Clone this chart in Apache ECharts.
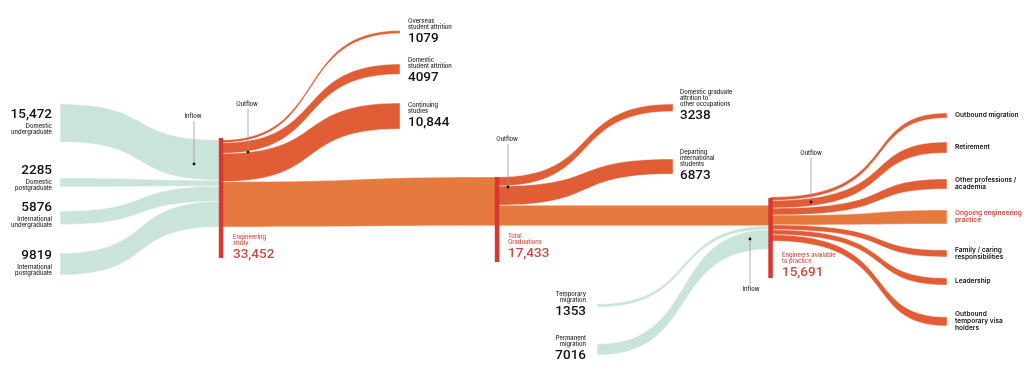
<!DOCTYPE html>
<html><head><meta charset="utf-8">
<script src="https://cdn.jsdelivr.net/npm/echarts@6/dist/echarts.min.js"></script>
<style>html,body{margin:0;padding:0;background:#fff}#c{width:1024px;height:391px}</style>
</head><body><div id="c"></div>
<script>
// ---------------- DATA ----------------
const studyInflowNames = ['Domestic\nundergraduate', 'Domestic\npostgraduate', 'International\nundergraduate', 'International\npostgraduate'];
const studyInflowValues = [15472, 2285, 5876, 9819];
const studyOutflowNames = ['Overseas\nstudent attrition', 'Domestic\nstudent attrition', 'Continuing\nstudies'];
const studyOutflowValues = [1079, 4097, 10844];
const stageNames = ['Engineering\nstudy', 'Total\nGraduations', 'Engineers available\nto practice'];
const stageValues = [33452, 17433, 15691];
const gradOutflowNames = ['Domestic graduate\nattrition to\nother occupations', 'Departing\ninternational\nstudents'];
const gradOutflowValues = [3238, 6873];
const migrationNames = ['Temporary\nmigration', 'Permanent\nmigration'];
const migrationValues = [1353, 7016];
const practiceNames = ['Outbound migration', 'Retirement', 'Other professions /\nacademia', 'Ongoing engineering\npractice', 'Family / caring\nresponsibilities', 'Leadership', 'Outbound\ntemporary visa\nholders'];
const practiceValues = [1250, 2740, 2490, 3490, 1740, 1740, 2240]; // not printed in source: estimated from band widths
const annotationTexts = ['Inflow', 'Outflow', 'Outflow', 'Outflow', 'Inflow'];

// ---------------- IDS (structure) ----------------
const srcIds = ['du', 'dp', 'iu', 'ip'];
const studyOutIds = ['osa', 'dsa', 'cs'];
const stageIds = ['eng', 'tg', 'ea'];
const gradOutIds = ['dga', 'dis'];
const migIds = ['tm', 'pm'];
const practiceIds = ['om', 'ret', 'opa', 'oep', 'fcr', 'lead', 'otv'];

// ---------------- LAYOUT / STYLE ----------------
const COL = { green: '#cbe4da', out: '#e15d36', main: '#e6793d', bar: '#d8382f', red: '#c94a40', ink: '#111111', small: '#222222', guide: '#9a9a9a' };
const CURVE = [0.6, 0.4];      // default bezier control points (fraction of span from start)
const CURVE_LATE = [0.75, 0.5]; // flows leaving "Engineers available" bend later
const layout = {
  du: { x: 60, y: 104, k: 0.00246 }, dp: { x: 60, y: 178, k: 0.0039 }, iu: { x: 60, y: 211, k: 0.0023 }, ip: { x: 60, y: 253, k: 0.00224 },
  eng: { x: 221, y: 140, k: 0.0026, bar: [138, 258] },
  osa: { x: 400, y: 30.5, k: 0.0028 }, dsa: { x: 400, y: 64, k: 0.0025 }, cs: { x: 400, y: 103, k: 0.0024 },
  tg: { x: 497, y: 177, k: 0.0028, bar: [177, 262] },
  dga: { x: 673, y: 104, k: 0.0023 }, dis: { x: 673, y: 159, k: 0.0022 },
  ea: { x: 770.5, y: 205.3, yOut: 197, k: 0.0028, bar: [198, 278], late: true },
  tm: { x: 597, y: 304, k: 0.0024 }, pm: { x: 597, y: 344, k: 0.0016 },
  om: { x: 947, y: 113, k: 0.004 }, ret: { x: 947, y: 142, k: 0.004 }, opa: { x: 947, y: 179, k: 0.004 },
  oep: { x: 947, y: 210, k: 0.004 }, fcr: { x: 947, y: 250, k: 0.004 }, lead: { x: 947, y: 278, k: 0.004 }, otv: { x: 947, y: 317, k: 0.004 }
};
const labelPos = {
  du: { x: 52, y: 115, align: 'right', below: true }, dp: { x: 52, y: 171, align: 'right', below: true },
  iu: { x: 52, y: 208, align: 'right', below: true }, ip: { x: 52, y: 256, align: 'right', below: true },
  osa: { x: 408, y: 39 }, dsa: { x: 408, y: 78 }, cs: { x: 408, y: 123 },
  eng: { x: 233, y: 255, red: true }, tg: { x: 508, y: 254, red: true }, ea: { x: 782, y: 273, red: true },
  dga: { x: 680, y: 116 }, dis: { x: 680, y: 176 },
  tm: { x: 586, y: 312, align: 'right' }, pm: { x: 586, y: 356, align: 'right' }
};
const annotationPos = [
  { tx: 193, ty: 116, x: 194, y1: 121, y2: 164 },
  { tx: 247, ty: 104, x: 248, y1: 109, y2: 152 },
  { tx: 507, ty: 139, x: 508, y1: 144, y2: 187 },
  { tx: 811, ty: 153, x: 811, y1: 158, y2: 202 },
  { tx: 751, ty: 289, x: 750, y1: 284, y2: 239 }
];

// ---------------- BUILD ----------------
const sum = a => a.reduce((p, c) => p + c, 0);
const fmt = v => v >= 10000 ? v.toLocaleString('en-US') : String(v);

const nodeInfo = {};
srcIds.forEach((id, i) => nodeInfo[id] = { name: studyInflowNames[i], value: studyInflowValues[i] });
studyOutIds.forEach((id, i) => nodeInfo[id] = { name: studyOutflowNames[i], value: studyOutflowValues[i] });
stageIds.forEach((id, i) => nodeInfo[id] = { name: stageNames[i], value: stageValues[i] });
gradOutIds.forEach((id, i) => nodeInfo[id] = { name: gradOutflowNames[i], value: gradOutflowValues[i] });
migIds.forEach((id, i) => nodeInfo[id] = { name: migrationNames[i], value: migrationValues[i] });
practiceIds.forEach((id, i) => nodeInfo[id] = { name: practiceNames[i], value: practiceValues[i], nameOnly: true });

const links = [];
srcIds.forEach((id, i) => links.push({ s: id, t: 'eng', v: studyInflowValues[i], c: 'green' }));
studyOutIds.forEach((id, i) => links.push({ s: 'eng', t: id, v: studyOutflowValues[i], c: 'out' }));
links.push({ s: 'eng', t: 'tg', v: stageValues[1], c: 'main' });
gradOutIds.forEach((id, i) => links.push({ s: 'tg', t: id, v: gradOutflowValues[i], c: 'out' }));
links.push({ s: 'tg', t: 'ea', v: stageValues[1] - sum(gradOutflowValues), c: 'main' });
migIds.forEach((id, i) => links.push({ s: id, t: 'ea', v: migrationValues[i], c: 'green' }));
practiceIds.forEach((id, i) => links.push({ s: 'ea', t: id, v: practiceValues[i], c: id === 'oep' ? 'main' : 'out' }));

// stacking
const outCur = {}, inCur = {};
Object.keys(layout).forEach(id => { outCur[id] = layout[id].yOut != null ? layout[id].yOut : layout[id].y; inCur[id] = layout[id].y; });
const geo = links.map(l => {
  const S = layout[l.s], T = layout[l.t];
  const w0 = l.v * S.k, w1 = l.v * T.k;
  const g = { x0: S.x, x1: T.x, y0: outCur[l.s], y1: inCur[l.t], w0, w1, color: COL[l.c], curve: S.late ? CURVE_LATE : CURVE };
  outCur[l.s] += w0; inCur[l.t] += w1;
  return g;
});
practiceIds.forEach(id => { const L = layout[id]; labelPos[id] = { x: 955, y: (L.y + inCur[id]) / 2, final: true }; });

const labelIds = srcIds.concat(studyOutIds, stageIds, gradOutIds, migIds, practiceIds);

// ---------------- RENDERERS ----------------
function ribbon(params, api) {
  const g = geo[params.dataIndex];
  const P = (x, y) => api.coord([x, y]).join(',');
  const dx = g.x1 - g.x0;
  const c1 = g.x0 + g.curve[0] * dx, c2 = g.x0 + g.curve[1] * dx;
  const d = 'M' + P(g.x0, g.y0) + ' C' + P(c1, g.y0) + ' ' + P(c2, g.y1) + ' ' + P(g.x1, g.y1) +
    ' L' + P(g.x1, g.y1 + g.w1) + ' C' + P(c2, g.y1 + g.w1) + ' ' + P(c1, g.y0 + g.w0) + ' ' + P(g.x0, g.y0 + g.w0) + ' Z';
  return { type: 'path', shape: { pathData: d }, style: { fill: g.color, stroke: 'rgba(255,255,255,0.85)', lineWidth: 0.5 } };
}
function bars(params, api) {
  const L = layout[stageIds[params.dataIndex]];
  const p0 = api.coord([L.x - 2.2, L.bar[0]]), p1 = api.coord([L.x + 2.3, L.bar[1]]);
  return { type: 'rect', shape: { x: p0[0], y: p0[1], width: p1[0] - p0[0], height: p1[1] - p0[1] }, style: { fill: COL.bar } };
}
function labels(params, api) {
  const id = labelIds[params.dataIndex];
  const info = nodeInfo[id], lp = labelPos[id];
  const p = api.coord([lp.x, lp.y]);
  const align = lp.align || 'left';
  if (lp.final) {
    const isMain = id === 'oep';
    return { type: 'text', style: { text: info.name, x: p[0], y: p[1], align: 'left', verticalAlign: 'middle',
      fontFamily: 'Inter', fontSize: 6.6, fontWeight: 600, lineHeight: 7, fill: isMain ? COL.red : COL.ink } };
  }
  const col = lp.red ? COL.red : COL.ink;
  const nameY = lp.below ? api.coord([lp.x, lp.y + 8.5])[1] : api.coord([lp.x, lp.y - 9])[1];
  return { type: 'group', children: [
    { type: 'text', style: { text: fmt(info.value), x: p[0], y: p[1], align, verticalAlign: 'middle',
      fontFamily: 'Roboto', fontSize: 13.5, fontWeight: 500, fill: col } },
    { type: 'text', style: { text: info.name, x: p[0], y: nameY, align, verticalAlign: lp.below ? 'top' : 'bottom',
      fontFamily: 'Inter', fontSize: 5.8, fontWeight: 500, lineHeight: 5.8, fill: lp.red ? COL.red : COL.small } }
  ] };
}
function annotations(params, api) {
  const a = annotationPos[params.dataIndex];
  const t = api.coord([a.tx, a.ty]), p1 = api.coord([a.x, a.y1]), p2 = api.coord([a.x, a.y2]);
  return { type: 'group', children: [
    { type: 'line', shape: { x1: p1[0], y1: p1[1], x2: p2[0], y2: p2[1] }, style: { stroke: COL.guide, lineWidth: 0.8 } },
    { type: 'circle', shape: { cx: p2[0], cy: p2[1], r: 1.4 }, style: { fill: '#111' } },
    { type: 'text', style: { text: annotationTexts[params.dataIndex], x: t[0], y: t[1], align: 'center', verticalAlign: 'middle',
      fontFamily: 'Inter', fontSize: 5.8, fontWeight: 500, fill: COL.small } }
  ] };
}

const chart = echarts.init(document.getElementById('c'), null, { renderer: 'canvas' });
chart.setOption({
  backgroundColor: '#ffffff',
  animation: false,
  grid: { left: 0, right: 0, top: 0, bottom: 0 },
  xAxis: { type: 'value', min: 0, max: 1024, show: false },
  yAxis: { type: 'value', min: 0, max: 391, inverse: true, show: false },
  series: [
    { type: 'custom', clip: false, z: 1, renderItem: ribbon, data: geo.map((g, i) => [i]) },
    { type: 'custom', clip: false, z: 2, renderItem: bars, data: stageIds.map((s, i) => [i]) },
    { type: 'custom', clip: false, z: 3, renderItem: annotations, data: annotationPos.map((s, i) => [i]) },
    { type: 'custom', clip: false, z: 4, renderItem: labels, data: labelIds.map((s, i) => [i]) }
  ]
});
</script></body></html>
